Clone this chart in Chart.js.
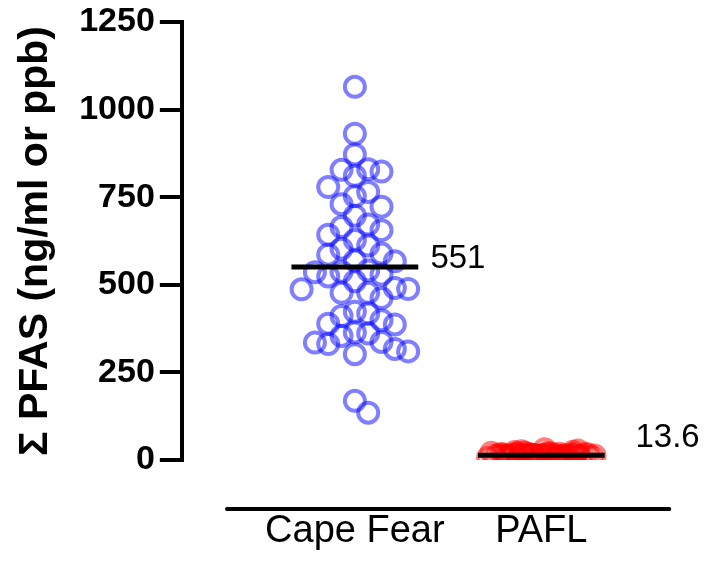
<!DOCTYPE html>
<html>
<head>
<meta charset="utf-8">
<script src="https://cdn.jsdelivr.net/npm/chart.js@4.4.1/dist/chart.umd.min.js"></script>
<style>
  html, body { margin: 0; padding: 0; background: #fff; }
  #wrap { position: relative; width: 711px; height: 564px; }
</style>
</head>
<body>
<div id="wrap"><canvas id="pfas-chart"></canvas></div>
<script>
// data
var groups = ['Cape Fear', 'PAFL'];
var capeFear = [1065, 931, 872, 830, 828, 823, 811, 779, 765, 753, 730, 723, 697, 672, 665,
  656, 643, 628, 612, 603, 589, 586, 569, 567, 541, 537, 536, 529, 524, 510, 491, 488, 487,
  477, 477, 462, 423, 418, 411, 399, 389, 387, 364, 361, 354, 337, 335, 331, 317, 310, 302,
  169, 135];
var pafl = [13.6, 8.2, 15.1, 11.4, 22.5, 9.7, 17.3, 12.8, 6.4, 19.8, 14.2, 10.5, 25.1, 13.1,
  7.9, 16.4, 12.2, 30.4, 11.9, 18.6, 14.9, 9.1, 21.3, 13.4, 5.6, 15.8, 12.6, 27.2, 10.9, 16.9,
  14.0, 8.8, 20.4, 13.8, 11.1, 17.8, 4.3, 12.0, 14.6, 9.4, 16.1, 13.3, 10.2, 18.1, 15.4, 11.7,
  13.9, 7.2, 19.2, 12.4, 14.4, 23.6, 10.7, 16.7, 13.0, 11.6, 15.6];
var medians = [551, 13.6];
var medianLabels = ['551', '13.6'];
var yTicks = [0, 250, 500, 750, 1000, 1250];
var yTitle = 'Σ PFAS (ng/ml or ppb)';

var FONT = '"Liberation Sans", Arial, Helvetica, sans-serif';

// swarm layout settings (pixels)
var COL_STEP = 13.4;
var ROW_GAP = 19;
var MAX_COL = 4;
var MEDIAN_HALF = 0.34;
var LABEL_DX = [0.405, 0.505];
var LABEL_DY = [-8, -17];

// whole columns first, then half, quarter, eighth steps for crowded rows
var slots = [];
[1, 2, 4, 8].forEach(function (div) {
  var level = [];
  for (var j = -MAX_COL * div; j <= MAX_COL * div; j++) {
    var k = j / div;
    if (slots.indexOf(k) === -1) level.push(k);
  }
  level.sort(function (a, b) { return Math.abs(a) - Math.abs(b) || b - a; });
  slots = slots.concat(level);
});

function spread(values, center, chart) {
  var xs = chart.scales.x, ys = chart.scales.y;
  var unit = xs.getPixelForValue(1) - xs.getPixelForValue(0);
  var cols = {};
  var out = [];
  values.forEach(function (v) {
    var py = ys.getPixelForValue(v);
    var pick = 0, best = -1;
    for (var i = 0; i < slots.length; i++) {
      var k = slots[i];
      var gap = Infinity;
      (cols[k] || []).forEach(function (q) { gap = Math.min(gap, Math.abs(q - py)); });
      if (gap >= ROW_GAP) { pick = k; break; }
      if (gap > best) { best = gap; pick = k; }
    }
    (cols[pick] = cols[pick] || []).push(py);
    out.push({ x: center + pick * COL_STEP / unit, y: v });
  });
  return out;
}

function medianLine(i) {
  return [{ x: i + 1 - MEDIAN_HALF, y: medians[i] }, { x: i + 1 + MEDIAN_HALF, y: medians[i] }];
}

var medianText = {
  id: 'medianText',
  afterDatasetsDraw: function (chart) {
    var ctx = chart.ctx, xs = chart.scales.x, ys = chart.scales.y;
    ctx.save();
    ctx.font = '33px ' + FONT;
    ctx.fillStyle = '#000';
    ctx.textAlign = 'left';
    ctx.textBaseline = 'middle';
    medians.forEach(function (m, i) {
      ctx.fillText(medianLabels[i], xs.getPixelForValue(i + 1 + LABEL_DX[i]), ys.getPixelForValue(m) + LABEL_DY[i]);
    });
    ctx.restore();
  }
};

// detached category axis line under the plot
var baseLine = {
  id: 'baseLine',
  afterDraw: function (chart) {
    var ctx = chart.ctx, xs = chart.scales.x;
    var y = chart.chartArea.bottom + 49;
    ctx.save();
    ctx.strokeStyle = '#000';
    ctx.lineWidth = 4;
    ctx.lineCap = 'round';
    ctx.beginPath();
    ctx.moveTo(xs.getPixelForValue(1 - 0.686), y);
    ctx.lineTo(xs.getPixelForValue(2 + 0.686), y);
    ctx.stroke();
    ctx.restore();
  }
};

var pointStyle = function (color) {
  return {
    type: 'scatter',
    data: [],
    order: 1,
    borderColor: color,
    backgroundColor: 'rgba(0,0,0,0)',
    pointRadius: 10,
    pointHoverRadius: 10,
    pointBorderWidth: 4,
    clip: { left: false, top: false, right: false, bottom: 0 }
  };
};

var lineStyle = function (i) {
  return {
    type: 'line',
    data: medianLine(i),
    order: 0,
    borderColor: '#000',
    borderWidth: 5,
    pointRadius: 0,
    clip: false
  };
};

var ctx = document.getElementById('pfas-chart').getContext('2d');
var chart = new Chart(ctx, {
  type: 'scatter',
  data: {
    datasets: [pointStyle('rgba(0,0,255,0.5)'), pointStyle('rgba(255,0,0,0.5)'), lineStyle(0), lineStyle(1)]
  },
  options: {
    responsive: true,
    maintainAspectRatio: false,
    animation: false,
    layout: { padding: { left: 9, top: 19, right: 11, bottom: 0 } },
    plugins: { legend: { display: false }, tooltip: { enabled: false } },
    scales: {
      x: {
        type: 'linear',
        min: 0.072,
        max: 2.835,
        afterBuildTicks: function (scale) {
          scale.ticks = groups.map(function (g, i) { return { value: i + 1 }; });
        },
        afterFit: function (scale) { scale.height = 104; },
        ticks: {
          autoSkip: false,
          maxRotation: 0,
          padding: 49,
          color: '#000',
          font: { family: FONT, size: 38 },
          callback: function (v) { return groups[v - 1]; }
        },
        grid: { display: false, drawTicks: false },
        border: { display: false }
      },
      y: {
        min: 0,
        max: 1250,
        afterBuildTicks: function (scale) {
          scale.ticks = yTicks.map(function (v) { return { value: v }; });
        },
        ticks: {
          padding: 5,
          color: '#000',
          font: { family: FONT, size: 34, weight: 'bold', lineHeight: 1 },
          callback: function (v) { return String(v); }
        },
        grid: { drawOnChartArea: false, drawTicks: true, tickLength: 22, lineWidth: 4, color: '#000' },
        border: { display: true, color: '#000', width: 4 },
        title: {
          display: true,
          text: yTitle,
          color: '#000',
          font: { family: FONT, size: 41, weight: 'bold' },
          padding: { top: 2, bottom: 14 }
        }
      }
    }
  },
  plugins: [medianText, baseLine]
});

chart.data.datasets[0].data = spread(capeFear, 1, chart);
chart.data.datasets[1].data = spread(pafl, 2, chart);
chart.update();
</script>
</body>
</html>
